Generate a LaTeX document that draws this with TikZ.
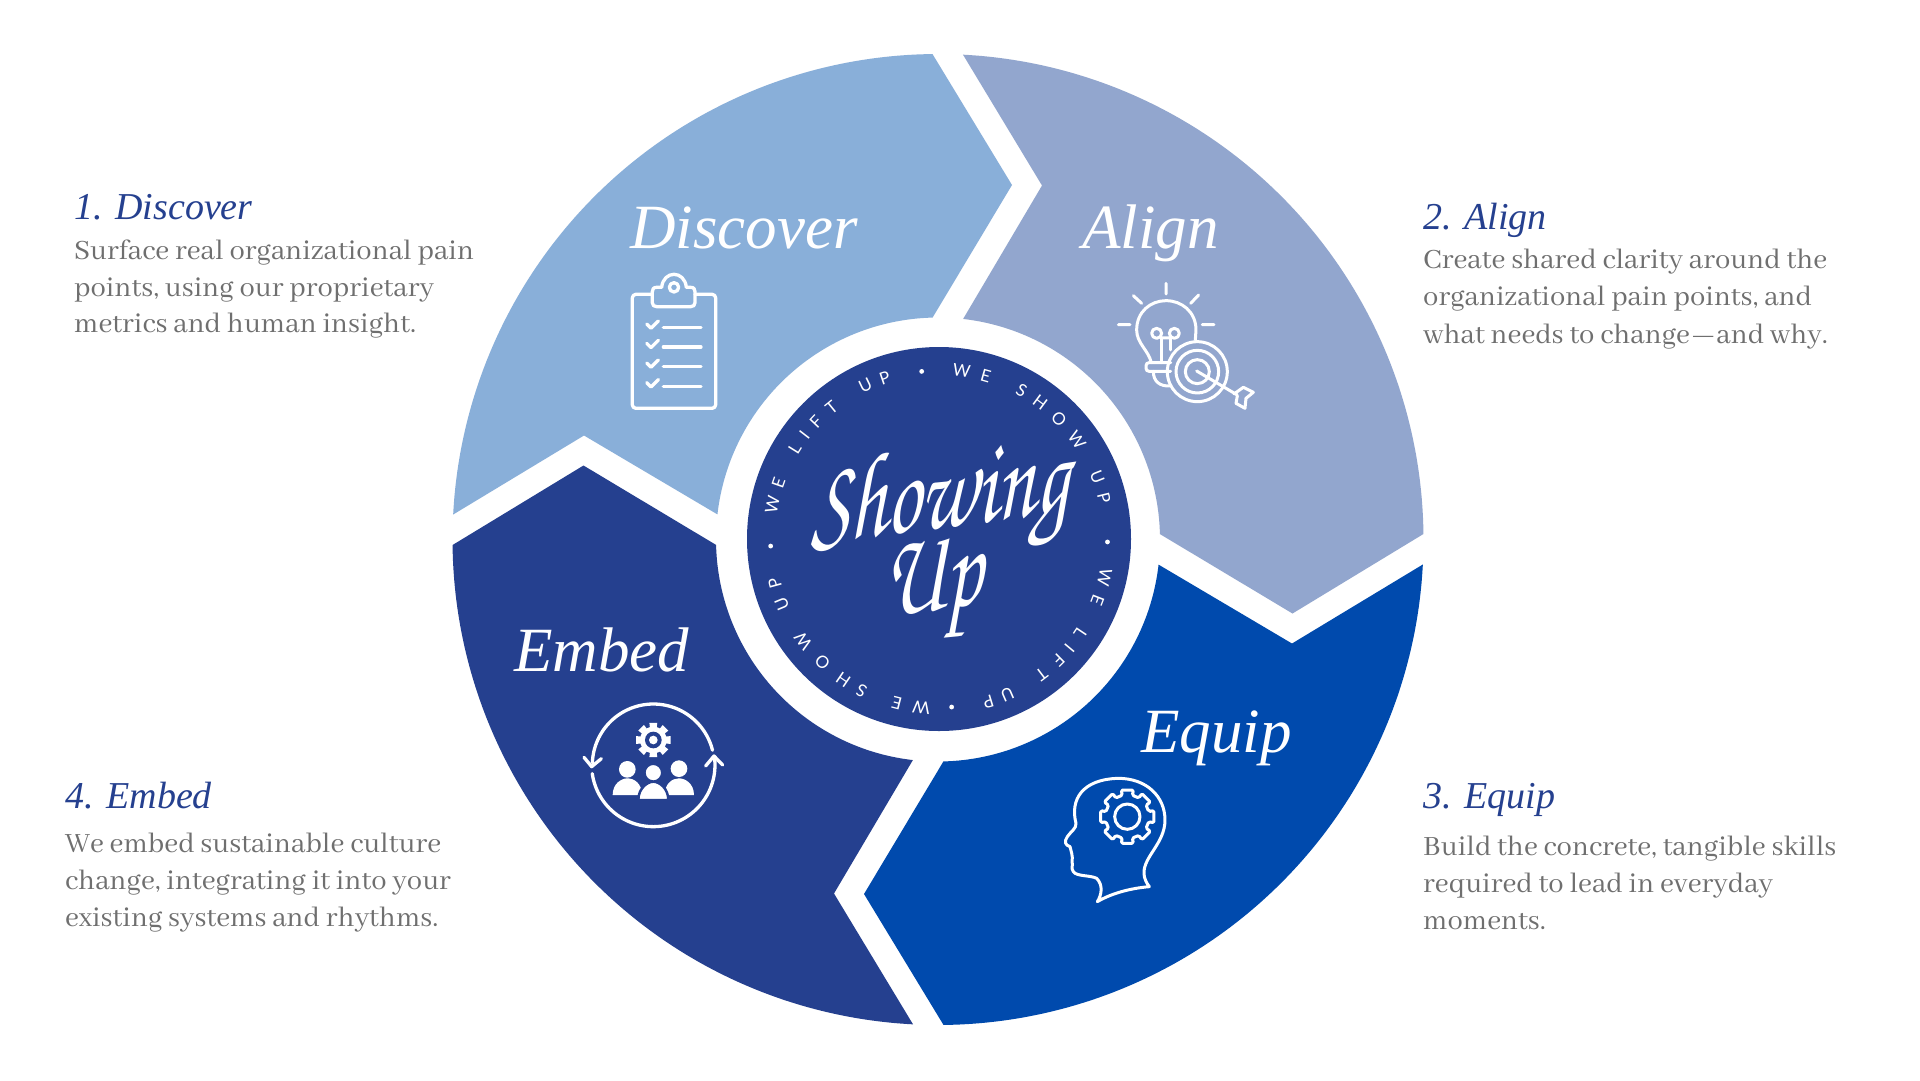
\documentclass[tikz,border=0pt]{standalone}
\usepackage{fontspec}
\newfontfamily\bodyf{Abhaya Libre}
\newfontfamily\headf{Liberation Serif}
\newfontfamily\ringf{Lato}
\newfontfamily\scriptf[FakeSlant=0.12]{TeX Gyre Chorus}
\definecolor{cDisc}{HTML}{89AFD9}
\definecolor{cAlign}{HTML}{92A6CE}
\definecolor{cEquip}{HTML}{004AAD}
\definecolor{cEmbed}{HTML}{25408F}
\definecolor{cGrey}{HTML}{6F6F6F}
\newcommand{\petal}[2]{%
  \fill[#2,shift={(938,539.5)},rotate=#1]
    plot[domain=2.95:89.35,samples=120] ({485.5*cos(\x)},{485.5*sin(\x)})
    -- (-74,354.5)
    -- plot[domain=88.6:6.5,samples=80] ({222*cos(\x)},{222*sin(\x)})
    -- (354,104) -- cycle;}
\newcommand{\ringletters}[1]{%
  \foreach \a/\c in {#1}{%
    \node[ringl,rotate={-\a}] at ({939+170*sin(\a)},{539-170*cos(\a)}) {\c};}}
\tikzset{
  ringl/.style={text=white,font=\ringf\fontsize{17}{17}\selectfont,inner sep=0pt,anchor=center},
  petaltitle/.style={text=white,anchor=base west,inner sep=0pt,font=\headf\fontsize{63}{63}\selectfont\itshape},
  sidehead/.style={text=cEmbed,anchor=base west,inner sep=0pt,font=\headf\fontsize{38}{38}\selectfont\itshape},
  sidebody/.style={text=cGrey,anchor=base west,inner sep=0pt,font=\bodyf\fontsize{30.6}{33}\selectfont},
  icon/.style={draw=white,line width=3.3pt,line cap=round,line join=round},
  iconthin/.style={draw=white,line width=3pt,line cap=round,line join=round},
  scripttext/.style={text=white,inner sep=0pt,anchor=base,xscale=.7,font=\scriptf\fontsize{120}{120}\selectfont}
}
\begin{document}
\begin{tikzpicture}[x=1pt,y=-1pt]
\useasboundingbox (0,0) rectangle (1920,1080);
\fill[white] (0,0) rectangle (1920,1080);
\petal{0}{cEquip}
\petal{-90}{cEmbed}
\petal{-180}{cDisc}
\petal{-270}{cAlign}
\fill[cEmbed] (939,539) circle[radius=192];

% ring text
\ringletters{7.7/W,16/E,29.1/S,36.5/H,44.9/O,54.3/W,68.6/U,76.1/P,
  102.9/W,111.1/E,123.8/L,129.8/I,135.4/F,142.9/T,156.3/U,163.1/P,
  186/W,194.4/E,207.1/S,214.3/H,223.3/O,233/W,247.5/U,254.8/P,
  281.6/W,289.2/E,302/L,307.7/I,313.6/F,320.8/T,334.3/U,341.4/P}
\foreach \a in {354.1,91,175.7,267.6}
  \fill[white] ({939+168.5*sin(\a)},{539-168.5*cos(\a)}) circle[radius=2.4];

% centre script
\node[scripttext,rotate=5] (showing) at (940,528) {Showing};
\node[scripttext,rotate=5] (up) at (933,610) {Up};

% petal titles
\node[petaltitle] (tDisc) at (630,248) {Discover};
\node[petaltitle] (tAlign) at (1082,248) {Align};
\node[petaltitle] (tEquip) at (1141,752) {Equip};
\node[petaltitle] (tEmbed) at (514,671) {Embed};

% side texts
\node[sidehead] (h1) at (74,219) {1. Discover};
\node[sidebody] (b11) at (74,259) {Surface real organizational pain};
\node[sidebody] (b12) at (74,296) {points, using our proprietary};
\node[sidebody] (b13) at (74,332) {metrics and human insight.};
\node[sidehead] (h2) at (1423,229) {2. Align};
\node[sidebody] (b21) at (1423,268) {Create shared clarity around the};
\node[sidebody] (b22) at (1423,305) {organizational pain points, and};
\node[sidebody] (b23) at (1423,343) {what needs to change—and why.};
\node[sidehead] (h3) at (1423,808) {3. Equip};
\node[sidebody] (b31) at (1423,855) {Build the concrete, tangible skills};
\node[sidebody] (b32) at (1423,892) {required to lead in everyday};
\node[sidebody] (b33) at (1423,929) {moments.};
\node[sidehead] (h4) at (65,808) {4. Embed};
\node[sidebody] (b41) at (65,852) {We embed sustainable culture};
\node[sidebody] (b42) at (65,889) {change, integrating it into your};
\node[sidebody] (b43) at (65,926) {existing systems and rhythms.};

% clipboard icon
\begin{scope}[shift={(600,180)},x=.3333pt,y=-.3333pt]
  \draw[icon,rounded corners=3.5pt] (157,343) -- (97,343) -- (97,685) -- (347,685) -- (347,343) -- (285,343);
  \draw[icon] (170,322) -- (185,322) .. controls (190,270) and (254,270) .. (259,322) -- (272,322)
     .. controls (282,322) and (285,328) .. (285,335) -- (285,368) .. controls (285,376) and (280,380) .. (272,380)
     -- (170,380) .. controls (162,380) and (157,376) .. (157,368) -- (157,335) .. controls (157,328) and (160,322) .. (170,322) -- cycle;
  \draw[icon] (222,322) circle[radius=14];
  \foreach \yy in {443,501,560,619}{
    \draw[icon] (190,\yy) -- (303,\yy);
    \draw[icon] (140,\yy-11) -- (153,\yy+2) -- (175,\yy-20);
  }
\end{scope}

% bulb and target icon
\begin{scope}[shift={(1080,180)},x=.3333pt,y=-.3333pt]
  \draw[iconthin] (258,310) -- (258,342) (160,347) -- (185,370) (356,345) -- (332,370)
     (115,434) -- (150,434) (367,434) -- (402,434);
  \draw[iconthin] (214,548) .. controls (205,510) and (170,490) .. (170,450)
     .. controls (170,395) and (212,362) .. (258,362)
     .. controls (305,362) and (348,395) .. (348,450) -- (346,480);
  \draw[iconthin] (243,548) -- (243,474) (272,510) -- (272,474);
  \draw[iconthin] (230,460) circle[radius=15] (283,460) circle[radius=15] (243,474) -- (272,474);
  \draw[iconthin,rounded corners=3pt] (272,548) -- (198,548) -- (198,574) -- (272,574);
  \draw[iconthin] (220,574) .. controls (220,605) and (240,620) .. (272,618);
  \draw[iconthin] (352,575) circle[radius=90] (352,575) circle[radius=64] (352,575) circle[radius=36];
  \draw[iconthin] (350,573) -- (472,645);
  \draw[iconthin] (462,642) -- (490,622) -- (520,637) -- (498,655) -- (495,685) -- (468,670) -- (472,648);
\end{scope}

% head icon
\begin{scope}[shift={(1040,700)},x=.3333pt,y=-.3333pt]
  \draw[iconthin] (172,605) .. controls (185,585) and (190,555) .. (170,535)
     .. controls (150,525) and (110,530) .. (100,515)
     .. controls (92,505) and (100,495) .. (96,485) .. controls (100,470) and (92,450) .. (90,440)
     .. controls (75,435) and (72,425) .. (82,410) .. controls (92,395) and (110,385) .. (108,370)
     .. controls (90,300) and (125,238) .. (235,235)
     .. controls (320,235) and (375,290) .. (375,360)
     .. controls (375,430) and (310,470) .. (312,520)
     .. controls (312,535) and (320,550) .. (328,560)
     .. controls (270,565) and (215,580) .. (172,605);
  \draw[iconthin] (262,350) circle[radius=38];
  \draw[iconthin,rounded corners=1.5pt] ({262+66*cos(-13)},{350+66*sin(-13)}) \foreach \a in {0,45,...,315}{
     -- ({262+66*cos(\a-13)},{350+66*sin(\a-13)}) -- ({262+82*cos(\a-13)},{350+82*sin(\a-13)})
     -- ({262+82*cos(\a+13)},{350+82*sin(\a+13)}) -- ({262+66*cos(\a+13)},{350+66*sin(\a+13)})
     } -- cycle;
\end{scope}

% embed icon
\begin{scope}[shift={(560,690)},x=.3333pt,y=-.3333pt]
  \draw[icon] plot[domain=-14:-178,samples=60] ({280+183*cos(\x)},{225+183*sin(\x)});
  \draw[icon] plot[domain=172:-8,samples=60] ({280+185*cos(\x)},{225+185*sin(\x)});
  \draw[icon] (72,202) -- (95,230) -- (124,206);
  \draw[icon] (437,228) -- (462,198) -- (488,225);
  \fill[white] ({280+40*cos(-15)},{150+40*sin(-15)}) \foreach \a in {0,45,...,315}{
     -- ({280+40*cos(\a-15)},{150+40*sin(\a-15)}) -- ({280+53*cos(\a-13)},{150+53*sin(\a-13)})
     -- ({280+53*cos(\a+13)},{150+53*sin(\a+13)}) -- ({280+40*cos(\a+15)},{150+40*sin(\a+15)})
     } -- cycle;
  \fill[cEmbed] (280,150) circle[radius=25];
  \fill[white] (280,150) circle[radius=13];
  \fill[white] (202,238) circle[radius=25] (357,236) circle[radius=25];
  \fill[white] (158,315) .. controls (158,280) and (185,265) .. (202,265) .. controls (222,265) and (246,280) .. (246,315) -- cycle;
  \fill[white] (314,315) .. controls (314,280) and (338,265) .. (357,265) .. controls (375,265) and (402,280) .. (402,315) -- cycle;
  \filldraw[fill=white,draw=cEmbed,line width=2.5pt] (235,330) .. controls (235,295) and (262,275) .. (280,275) .. controls (298,275) and (325,295) .. (325,330) -- cycle;
  \filldraw[fill=white,draw=cEmbed,line width=2pt] (280,248) circle[radius=26];
\end{scope}
\end{tikzpicture}
\end{document}
